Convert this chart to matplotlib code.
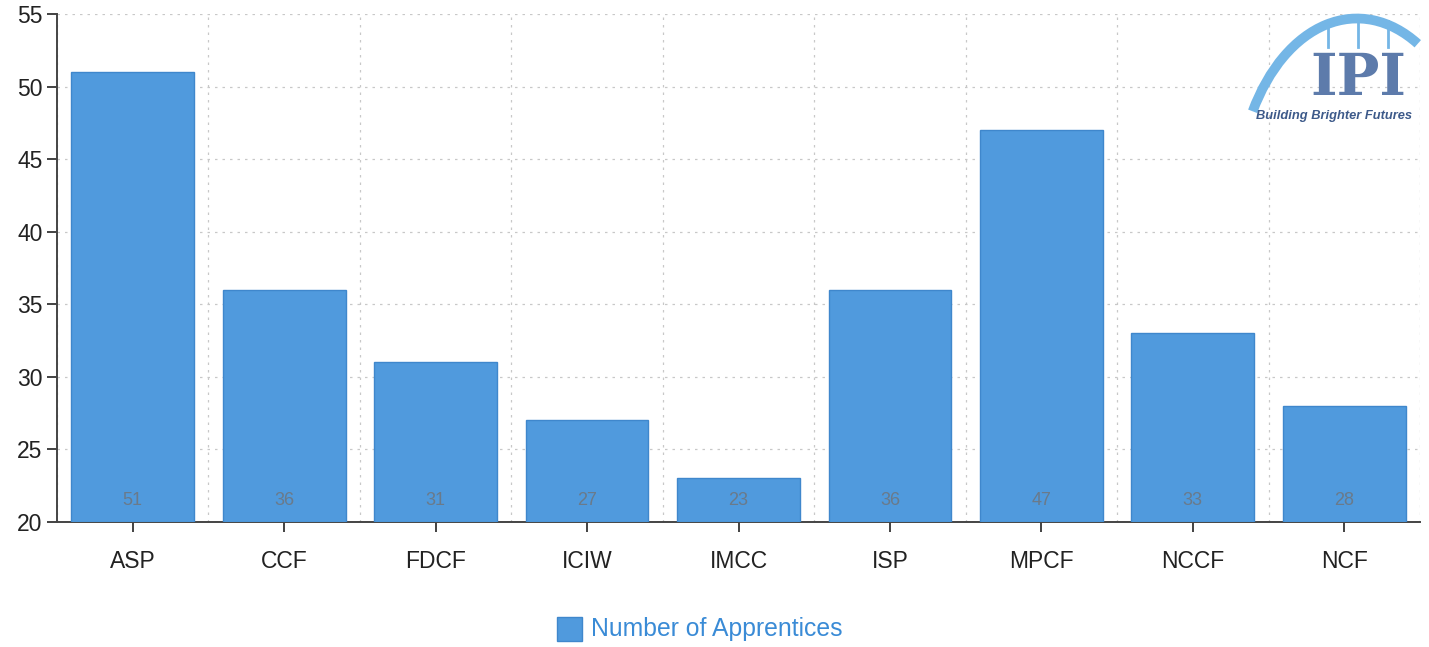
import numpy as np
import matplotlib.pyplot as plt
from matplotlib.patches import Arc, Rectangle

# data
categories = ['ASP', 'CCF', 'FDCF', 'ICIW', 'IMCC', 'ISP', 'MPCF', 'NCCF', 'NCF']
apprentices = [51, 36, 31, 27, 23, 36, 47, 33, 28]
yticks = [20, 25, 30, 35, 40, 45, 50, 55]

bar_color = '#509add'
edge_color = '#3f87cc'

plt.rcParams['font.family'] = ['Liberation Sans', 'DejaVu Sans']

fig = plt.figure(figsize=(14.29, 6.47), dpi=100)
ax = fig.add_axes([0.0399, 0.1932, 0.9538, 0.7852])

x = np.arange(len(categories))
base = yticks[0]
heights = [v - base for v in apprentices]
ax.bar(x, heights, bottom=base, width=0.81, color=bar_color,
       edgecolor=edge_color, linewidth=1, zorder=3)

# value labels near bar bottom
for xi, v in zip(x, apprentices):
    ax.text(xi, base + 1.5, str(v), ha='center', va='center',
            fontsize=13, color='#6a7a8a', zorder=4)

ax.set_xlim(-0.5, len(categories) - 0.5)
ax.set_ylim(yticks[0], yticks[-1])
ax.set_yticks(yticks)
ax.set_xticks(x)
ax.set_xticklabels(categories)
ax.set_xticks(np.arange(len(categories) + 1) - 0.5, minor=True)
ax.tick_params(axis='x', which='minor', length=0)
ax.tick_params(axis='both', which='major', labelsize=16.5, colors='#222222',
               length=7, width=1.2)
ax.tick_params(axis='x', which='major', pad=13)

ax.grid(True, axis='y', which='major', linestyle=(0, (2, 4)), color='#c8c8c8', linewidth=0.9, zorder=0)
ax.grid(True, axis='x', which='minor', linestyle=(0, (2, 4)), color='#c8c8c8', linewidth=0.9, zorder=0)

for s in ['top', 'right']:
    ax.spines[s].set_visible(False)
ax.spines['left'].set_color('#444444')
ax.spines['bottom'].set_color('#444444')
ax.spines['left'].set_linewidth(1.4)
ax.spines['bottom'].set_linewidth(1.4)

# legend
fig.patches.append(Rectangle((0.3898, 0.0093), 0.0175, 0.037, transform=fig.transFigure,
                             facecolor=bar_color, edgecolor=edge_color, linewidth=1))
fig.text(0.4135, 0.0275, 'Number of Apprentices', fontsize=17.8, color='#3a8bd6',
         ha='left', va='center')

# logo, drawn on an overlay in pixel units
lx = fig.add_axes([0, 0, 1, 1], zorder=5)
lx.set_xlim(0, 1429)
lx.set_ylim(0, 647)
lx.axis('off')
lx.patch.set_alpha(0)
lx.add_patch(Arc((1357, 445), 240, 367, theta1=69, theta2=139,
                 color='#74b6e6', linewidth=7))
for px in [1328, 1358, 1388]:
    lx.plot([px, px], [600, 626], color='#74b6e6', linewidth=2)
lx.text(1358, 568, 'IPI', fontsize=41, family='DejaVu Serif', color='#5d7bab',
        ha='center', va='center', fontweight='bold')
lx.text(1334, 531, 'Building Brighter Futures', fontsize=9.3, color='#3d5a8a',
        ha='center', va='center', style='italic', fontweight='bold')

fig.savefig('out.png', dpi=100)
